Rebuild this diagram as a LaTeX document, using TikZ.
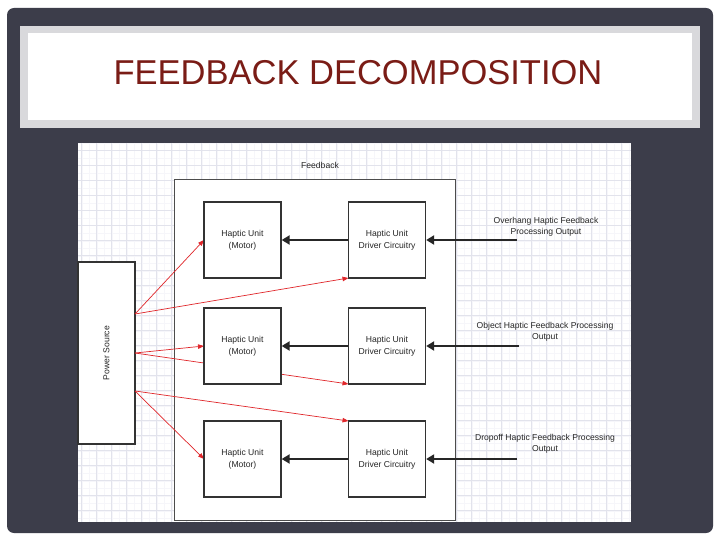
\documentclass[tikz,border=0pt]{standalone}
\usepackage{fontspec}
\setmainfont{Liberation Sans}
\usetikzlibrary{arrows.meta}
\definecolor{slate}{HTML}{3C3D4A}
\definecolor{titlered}{HTML}{7A1C16}
\definecolor{framegray}{HTML}{D9D9DC}
\definecolor{gridmaj}{HTML}{E2E3EC}
\definecolor{gridmin}{HTML}{F6F6FA}
\definecolor{pwrred}{HTML}{E0262A}
\begin{document}
\begin{tikzpicture}[x=1pt,y=-1pt,
  box/.style={draw=black!80, line width=1.3pt, fill=white, minimum width=77pt, minimum height=76pt, inner sep=0pt, align=center, font=\fontsize{8.6}{12}\selectfont, text=black!85},
  lbl/.style={align=center, font=\fontsize{8.6}{11}\selectfont, text=black!85, inner sep=0pt},
  blk/.style={draw=black!85, line width=2pt, -{Triangle[length=8pt,width=9pt]}},
  pwr/.style={draw=pwrred, line width=0.7pt, -{Triangle[length=6pt,width=4.5pt]}},
]
\useasboundingbox (0,0) rectangle (720,540);
\fill[white] (0,0) rectangle (720,540);
\fill[slate, rounded corners=7pt] (7,8) rectangle (713,533);
% title
\fill[framegray] (20,26) rectangle (700,128);
\fill[white] (28,33) rectangle (692,120);
\node[font=\fontsize{34.5}{40}\selectfont, text=titlered, inner sep=0pt] (title) at (358,73) {FEEDBACK DECOMPOSITION};
% diagram sheet
\fill[white] (78,143) rectangle (631,522);
\begin{scope}
\clip (78,143) rectangle (631,522);
\foreach \i in {0,...,75} {
  \draw[gridmin, line width=0.4pt] (74.2+7.5*\i,143) -- (74.2+7.5*\i,522);
}
\foreach \i in {0,...,51} {
  \draw[gridmin, line width=0.4pt] (78,143.2+7.5*\i) -- (631,143.2+7.5*\i);
}
\foreach \i in {0,...,37} {
  \draw[gridmaj, line width=0.6pt] (81.7+15*\i,143) -- (81.7+15*\i,522);
}
\foreach \i in {0,...,25} {
  \draw[gridmaj, line width=0.6pt] (78,150.7+15*\i) -- (631,150.7+15*\i);
}
\end{scope}
% container
\node[draw=black!70, line width=0.8pt, fill=white, minimum width=281pt, minimum height=341pt, inner sep=0pt] (fb) at (314.5,349.5) {};
\node[lbl] (fbl) at (320,165) {Feedback};
% power source
\node[draw=black!80, line width=1.3pt, fill=white, rotate=90, minimum width=182pt, minimum height=57pt, inner sep=0pt, font=\fontsize{8.6}{12}\selectfont, text=black!85] (ps) at (106.5,353) {Power Source};
\coordinate (pA) at (135,314);
\coordinate (pB) at (135,353);
\coordinate (pC) at (135,391);
% box positions
\path (242.5,240) coordinate (m1c) (387,240) coordinate (d1c)
      (242.5,346) coordinate (m2c) (387,346) coordinate (d2c)
      (242.5,459) coordinate (m3c) (387,459) coordinate (d3c);
% red power lines drawn behind boxes
\path (m1c) ++(-38.5,0) coordinate (m1w);
\path (d1c) ++(-38.5,38) coordinate (d1sw);
\path (m2c) ++(-38.5,0) coordinate (m2w);
\path (d2c) ++(-38.5,38) coordinate (d2sw);
\path (d3c) ++(-38.5,-38) coordinate (d3nw);
\path (m3c) ++(-38.5,0) coordinate (m3w);
\draw[pwr] (pA) -- (m1w);
\draw[pwr] (pA) -- (d1sw);
\draw[pwr] (pB) -- (m2w);
\draw[pwr] (pB) -- (d2sw);
\draw[pwr] (pC) -- (d3nw);
\draw[pwr] (pC) -- (m3w);
% boxes
\node[box] (m1) at (m1c) {Haptic Unit\\(Motor)};
\node[box] (d1) at (d1c) {Haptic Unit\\Driver Circuitry};
\node[box] (m2) at (m2c) {Haptic Unit\\(Motor)};
\node[box] (d2) at (d2c) {Haptic Unit\\Driver Circuitry};
\node[box] (m3) at (m3c) {Haptic Unit\\(Motor)};
\node[box] (d3) at (d3c) {Haptic Unit\\Driver Circuitry};
% outputs
\node[lbl] (t1) at (546,227) {Overhang Haptic Feedback\\Processing Output};
\node[lbl] (t2) at (545,332) {Object Haptic Feedback Processing\\Output};
\node[lbl] (t3) at (545,444) {Dropoff Haptic Feedback Processing\\Output};
\coordinate (o1) at (517,240);
\coordinate (o2) at (519,346);
\coordinate (o3) at (517,459);
\draw[blk] (o1) -- (d1);
\draw[blk] (o2) -- (d2);
\draw[blk] (o3) -- (d3);
\draw[blk] (d1) -- (m1);
\draw[blk] (d2) -- (m2);
\draw[blk] (d3) -- (m3);
\end{tikzpicture}
\end{document}
